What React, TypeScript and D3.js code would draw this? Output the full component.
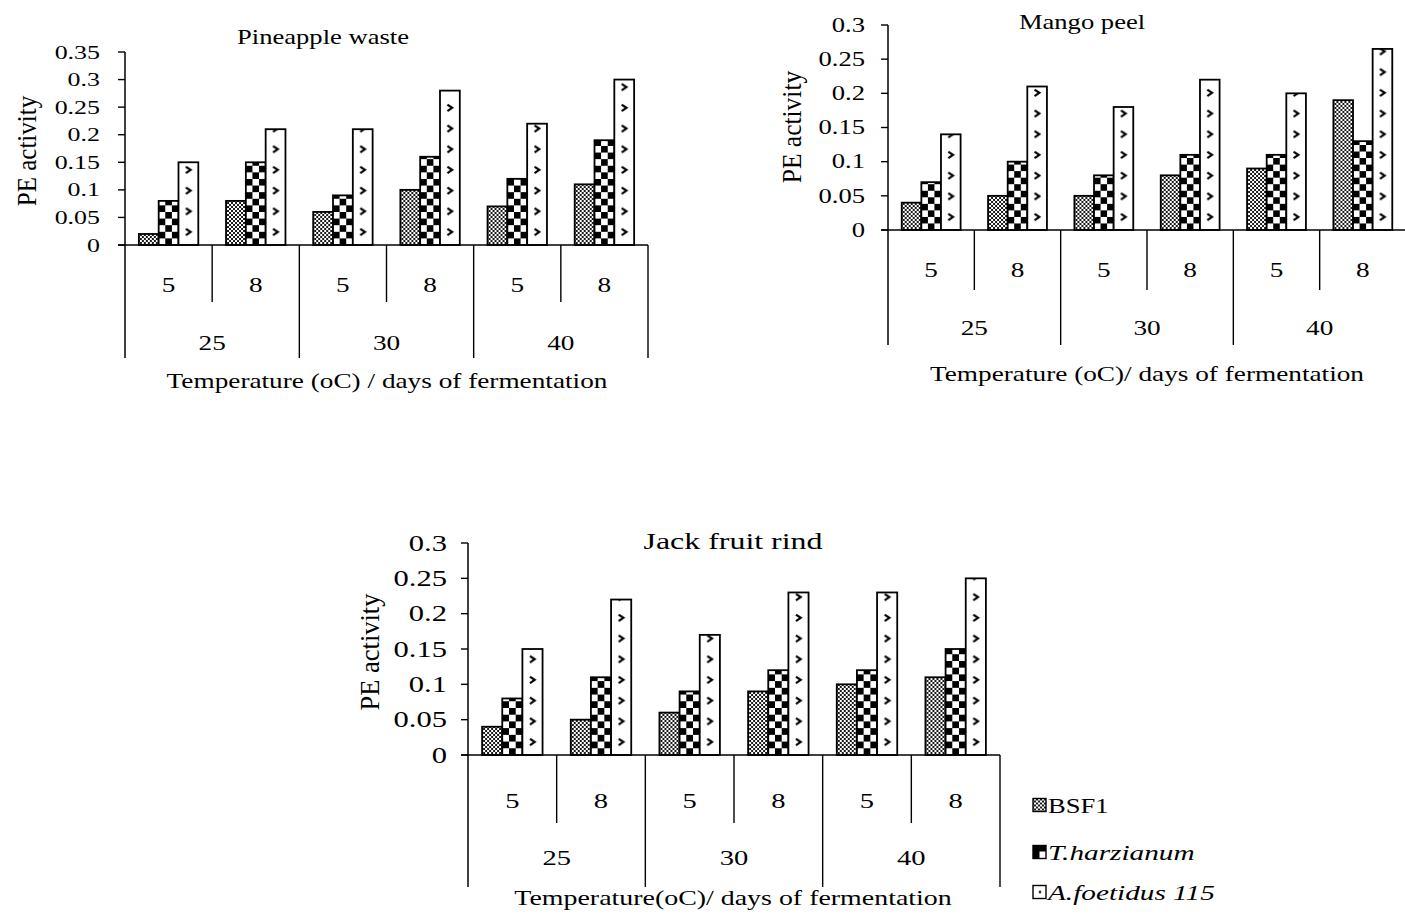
import React from 'react';
import * as d3 from 'd3';

// ---------- data ----------
const dayLabels = ['5', '8', '5', '8', '5', '8'];
const temperatureLabels = ['25', '30', '40'];
const seriesNames = ['BSF1', 'T.harzianum', 'A.foetidus 115'];

const pineappleBSF1 = [0.02, 0.08, 0.06, 0.10, 0.07, 0.11];
const pineappleTharz = [0.08, 0.15, 0.09, 0.16, 0.12, 0.19];
const pineappleAfoet = [0.15, 0.21, 0.21, 0.28, 0.22, 0.30];

const mangoBSF1 = [0.04, 0.05, 0.05, 0.08, 0.09, 0.19];
const mangoTharz = [0.07, 0.10, 0.08, 0.11, 0.11, 0.13];
const mangoAfoet = [0.14, 0.21, 0.18, 0.22, 0.20, 0.265];

const jackBSF1 = [0.04, 0.05, 0.06, 0.09, 0.10, 0.11];
const jackTharz = [0.08, 0.11, 0.09, 0.12, 0.12, 0.15];
const jackAfoet = [0.15, 0.22, 0.17, 0.23, 0.23, 0.25];

const yTickStep = 0.05;

// ---------- style ----------
const SX = 1.33;
const FONT = "'Liberation Serif', 'Times New Roman', serif";

function Txt(props: {
  x: number; y: number; size: number; anchor?: string; italic?: boolean; rotate?: boolean; sx?: number; children: any;
}) {
  const { x, y, size, anchor = 'middle', italic = false, rotate = false, sx = SX, children } = props;
  const tr = `translate(${x},${y}) scale(${sx},1)` + (rotate ? ' rotate(-90)' : '');
  return (
    <text transform={tr} fontSize={size} textAnchor={anchor as any} fontFamily={FONT}
      fontStyle={italic ? 'italic' : 'normal'} fill="#000">{children}</text>
  );
}

type ChartProps = {
  id: string;
  title: string;
  series: number[][];
  yMax: number;
  x0: number; x1: number; yBase: number; yTop: number;
  tickFont: number; tickGap: number;
  subDepth: number; groupDepth: number;
  subLabelY: number; groupLabelY: number; labelFont: number;
  titleX: number; titleY: number; titleFont: number;
  yLabelX: number; yLabelY: number; yLabelFont: number;
  xTitle: string; xTitleX: number; xTitleY: number; xTitleFont: number;
};

function Patterns({ id, bw }: { id: string; bw: number }) {
  const c = bw / 3;
  const ch = 20.7;
  const cx = bw / 2;
  const cy = ch - 13;
  return (
    <>
      <pattern id={`chk-${id}`} patternUnits="userSpaceOnUse" width={2 * c} height={2 * c}>
        <rect width={2 * c} height={2 * c} fill="#fff" />
        <rect x={0} y={0} width={c} height={c} fill="#000" />
        <rect x={c} y={c} width={c} height={c} fill="#000" />
      </pattern>
      <pattern id={`chev-${id}`} patternUnits="userSpaceOnUse" width={bw} height={ch}>
        <rect width={bw} height={ch} fill="#fff" />
        <path d={`M${cx - 2.5},${cy - 3.2} L${cx + 2.2},${cy} L${cx - 2.5},${cy + 3.2}`}
          fill="none" stroke="#000" strokeWidth={2.2} />
      </pattern>
    </>
  );
}

function Chart(p: ChartProps) {
  const y = d3.scaleLinear().domain([0, p.yMax]).range([p.yBase, p.yTop]);
  const ticks = d3.range(0, p.yMax + 1e-9, yTickStep);
  const xBand = d3.scaleBand<number>().domain(d3.range(dayLabels.length)).range([p.x0, p.x1]).paddingInner(0).paddingOuter(0);
  const catW = xBand.bandwidth();
  const inner = d3.scaleBand<number>().domain([0, 1, 2]).range([0, catW]).paddingInner(0).paddingOuter(0.7);
  const bw = inner.bandwidth();
  const fills = ['url(#bsf)', `url(#chk-${p.id})`, `url(#chev-${p.id})`];
  const fmt = (v: number) => String(+v.toFixed(2));
  return (
    <g>
      <defs><Patterns id={p.id} bw={bw} /></defs>
      {/* bars */}
      {dayLabels.map((_, i) =>
        p.series.map((s, k) => {
          const h = p.yBase - y(s[i]);
          return (
            <g key={`${i}-${k}`} transform={`translate(${(xBand(i) as number) + (inner(k) as number)},${p.yBase})`}>
              <rect x={0} y={-h} width={bw} height={h} fill={fills[k]} stroke="#000" strokeWidth={1.8} />
            </g>
          );
        })
      )}
      {/* y axis */}
      <line x1={p.x0} x2={p.x0} y1={p.yTop} y2={p.groupDepth} stroke="#000" strokeWidth={1.5} />
      {ticks.map((t) => (
        <g key={t}>
          <line x1={p.x0 - 7} x2={p.x0} y1={y(t)} y2={y(t)} stroke="#000" strokeWidth={1.4} />
          <Txt x={p.x0 - p.tickGap} y={y(t) + p.tickFont * 0.34} size={p.tickFont} anchor="end">{fmt(t)}</Txt>
        </g>
      ))}
      {/* x axis */}
      <line x1={p.x0 - 7} x2={p.x1} y1={p.yBase} y2={p.yBase} stroke="#000" strokeWidth={1.5} />
      {dayLabels.map((d, i) => {
        const xr = (xBand(i) as number) + catW;
        const isGroupEnd = i % 2 === 1;
        return (
          <g key={`d${i}`}>
            <line x1={xr} x2={xr} y1={p.yBase} y2={isGroupEnd ? p.groupDepth : p.subDepth} stroke="#000" strokeWidth={1.4} />
            <Txt x={(xBand(i) as number) + catW / 2} y={p.subLabelY + p.labelFont * 0.34} size={p.labelFont}>{d}</Txt>
          </g>
        );
      })}
      {temperatureLabels.map((t, g) => (
        <Txt key={`t${g}`} x={(xBand(2 * g) as number) + catW} y={p.groupLabelY + p.labelFont * 0.34} size={p.labelFont}>{t}</Txt>
      ))}
      <Txt x={p.titleX} y={p.titleY + p.titleFont * 0.34} size={p.titleFont}>{p.title}</Txt>
      <Txt x={p.yLabelX + p.yLabelFont * 0.34 * 1.05} y={p.yLabelY} size={p.yLabelFont} sx={1.05} rotate>PE activity</Txt>
      <Txt x={p.xTitleX} y={p.xTitleY + p.xTitleFont * 0.34} size={p.xTitleFont}>{p.xTitle}</Txt>
    </g>
  );
}

export default function App() {
  const legendY = [805, 852, 892];
  const legendFills = ['url(#bsf)', 'url(#chk-leg)', 'url(#chev-leg)'];
  return (
    <svg width={1405} height={922} style={{ display: 'block', position: 'absolute', left: 0, top: 0, background: '#fff' }}>
      <defs>
        <pattern id="bsf" patternUnits="userSpaceOnUse" width={4} height={4}>
          <rect width={4} height={4} fill="#fff" />
          <path d="M0,0 L4,4 M4,0 L0,4" stroke="#000" strokeWidth={0.9} />
        </pattern>
        <pattern id="chk-leg" patternUnits="userSpaceOnUse" width={13} height={13}>
          <rect width={13} height={13} fill="#000" />
          <rect x={6.5} y={6} width={6.5} height={7} fill="#fff" />
        </pattern>
        <pattern id="chev-leg" patternUnits="userSpaceOnUse" width={13} height={13}>
          <rect width={13} height={13} fill="#fff" />
          <circle cx={7} cy={6.5} r={1.3} fill="#000" />
        </pattern>
      </defs>
      <rect width={1405} height={922} fill="#fff" />
      <Chart id="pine" title="Pineapple waste" series={[pineappleBSF1, pineappleTharz, pineappleAfoet]} yMax={0.35}
        x0={125} x1={648} yBase={245} yTop={52} tickFont={19.5} tickGap={25}
        subDepth={302} groupDepth={358} subLabelY={285} groupLabelY={343} labelFont={20.5}
        titleX={323} titleY={37} titleFont={20}
        yLabelX={27} yLabelY={151} yLabelFont={25}
        xTitle="Temperature (oC) / days of fermentation" xTitleX={387} xTitleY={381} xTitleFont={20.5} />
      <Chart id="mango" title="Mango peel" series={[mangoBSF1, mangoTharz, mangoAfoet]} yMax={0.3}
        x0={888} x1={1406} yBase={230} yTop={25} tickFont={20} tickGap={23}
        subDepth={290} groupDepth={345} subLabelY={270} groupLabelY={328} labelFont={20.5}
        titleX={1082} titleY={22} titleFont={20}
        yLabelX={792} yLabelY={127} yLabelFont={25.5}
        xTitle="Temperature (oC)/ days of fermentation" xTitleX={1147} xTitleY={374} xTitleFont={20.5} />
      <Chart id="jack" title="Jack fruit rind" series={[jackBSF1, jackTharz, jackAfoet]} yMax={0.3}
        x0={468} x1={1000} yBase={755} yTop={543} tickFont={23} tickGap={21}
        subDepth={823} groupDepth={887} subLabelY={801} groupLabelY={858} labelFont={21.5}
        titleX={733} titleY={541} titleFont={24}
        yLabelX={370} yLabelY={652} yLabelFont={26.5}
        xTitle="Temperature(oC)/ days of fermentation" xTitleX={733} xTitleY={898} xTitleFont={21} />
      {/* legend */}
      {seriesNames.map((s, i) => (
        <g key={s}>
          <g transform={`translate(1033,${legendY[i] + 6.5})`}>
            <rect x={0} y={-13} width={13} height={13} fill={legendFills[i]} stroke="#000" strokeWidth={1.4} />
          </g>
          <Txt x={1048} y={legendY[i] + 7.5} size={i === 0 ? 20 : 22} anchor="start" italic={i > 0}>{s}</Txt>
        </g>
      ))}
    </svg>
  );
}
